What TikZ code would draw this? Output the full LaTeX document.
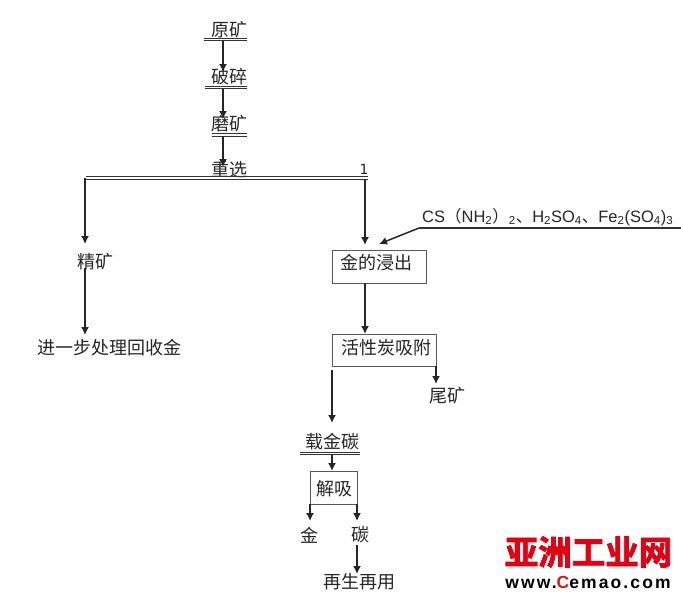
\documentclass[tikz,border=0pt]{standalone}
\usepackage{fontspec}
\setmainfont{Liberation Sans}
\newfontfamily\cjk{Noto Sans CJK SC}
\newfontfamily\latinf{DejaVu Sans}
\newfontfamily\logofont[LetterSpace=12]{Liberation Sans}
\newfontfamily\logocjk[FakeBold=2.5]{Noto Sans CJK SC Bold}
\usetikzlibrary{arrows.meta,calc}
\tikzset{
 lab/.style={inner sep=0pt,outer sep=0pt,font=\cjk\fontsize{18}{18}\selectfont,text=black!85},
 bar/.style={inner sep=0pt,outer sep=0pt,minimum height=2.8pt},
 boxn/.style={draw=black!65,line width=1pt,inner sep=0pt,outer sep=0pt},
 arr/.style={line width=1.5pt,draw=black!85,-{Latex[length=8pt,width=8pt]}},
 rule/.style={line width=1pt,draw=black!80},
}
\newcommand{\dbar}[1]{\draw[rule] (#1.north west) -- (#1.north east); \draw[rule] (#1.south west) -- (#1.south east);}
\begin{document}
\begin{tikzpicture}[x=1pt,y=-1pt]
\useasboundingbox (0,0) rectangle (683,598);
\fill[white] (0,0) rectangle (683,598);
% top chain
\node[lab] (yk) at (229,30) {原矿};
\node[bar,minimum width=43pt] (b1) at (225.5,39.5) {}; \dbar{b1}
\node[lab] (ps) at (229,77) {破碎};
\node[bar,minimum width=42pt] (b2) at (226,87.5) {}; \dbar{b2}
\node[lab] (mk) at (229,124) {磨矿};
\node[bar,minimum width=35pt] (b3) at (229.5,135) {}; \dbar{b3}
\node[lab] (zx) at (229,170) {重选};
\node[lab,font=\latinf\fontsize{14}{14}\selectfont] (one) at (364,169) {1};
\node[bar,minimum width=282pt] (b4) at (227,178) {}; \dbar{b4}
\draw[arr] (b1.south -| 223,0) -- (223,72);
\draw[arr] (b2.south -| 223,0) -- (223,119);
\draw[arr] (b3.south -| 223,0) -- (223,167);
% left branch
\node[lab] (jk) at (95,262) {精矿};
\node[lab] (jb) at (109.5,348) {进一步处理回收金};
\draw[arr] (b4.west -| 85,0) -- (85,244);
\draw[arr] (85,268) -- (85,335);
% right branch
\node[boxn,minimum width=94pt,minimum height=33pt] (jc) at (379,266.5) {};
\node[lab] at (376.5,263) (jct) {金的浸出};
\node[boxn,minimum width=104pt,minimum height=32pt] (hx) at (384,350) {};
\node[lab] at (386.5,348) (hxt) {活性炭吸附};
\draw[arr] (b4.south -| 365,0) -- (365,245);
\draw[arr] (jc.south -| 365,0) -- (hx.north -| 365,0);
\node[inner sep=0pt,anchor=west,font=\fontsize{16.5}{16.5}\selectfont,text=black!85] (cs) at (422,217) {CS{\cjk（}NH\textsubscript{2}{\cjk）}\textsubscript{2}{\cjk、}H\textsubscript{2}SO\textsubscript{4}{\cjk、}Fe\textsubscript{2}(SO\textsubscript{4})\textsubscript{3}};
\coordinate (csr) at (681,228);
\coordinate (csl) at (419,228);
\draw[rule,line width=1.1pt] (csr) -- (csl);
\draw[arr] (csl) -- (379,244);
\node[lab] (wk) at (447,396) {尾矿};
\draw[arr] (hx.south east) -- (436,384);
\node[lab] (zj) at (332.5,442) {载金碳};
\node[bar,minimum width=60pt] (b5) at (330,453.5) {}; \dbar{b5}
\draw[arr] (332,370) -- (332,423);
\node[boxn,minimum width=47pt,minimum height=33pt] (jx) at (333.5,487.5) {};
\node[lab] (jxt) at (334.5,489) {解吸};
\draw[arr] (b5.south -| 332,0) -- (jx.north -| 332,0);
\node[lab] (jin) at (309,535) {金};
\node[lab] (tan) at (360,535) {碳};
\node[lab] (zs) at (359,582) {再生再用};
\draw[arr] (jx.south west) -- (310,521);
\draw[arr] (jx.south east) -- (357,521);
\draw[arr] (357,545) -- (357,574);
% logo
\node[inner sep=0pt,font=\logocjk\fontsize{33.5}{33.5}\selectfont,text={rgb,255:red,226;green,0;blue,18}] (logo) at (588.5,552) {亚洲工业网};
\node[inner sep=0pt,font=\logofont\bfseries\fontsize{17.5}{17.5}\selectfont,text=black] (url) at (588,582) {www.\textcolor[rgb]{0.85,0.1,0.1}{C}emao.com};
\end{tikzpicture}
\end{document}
